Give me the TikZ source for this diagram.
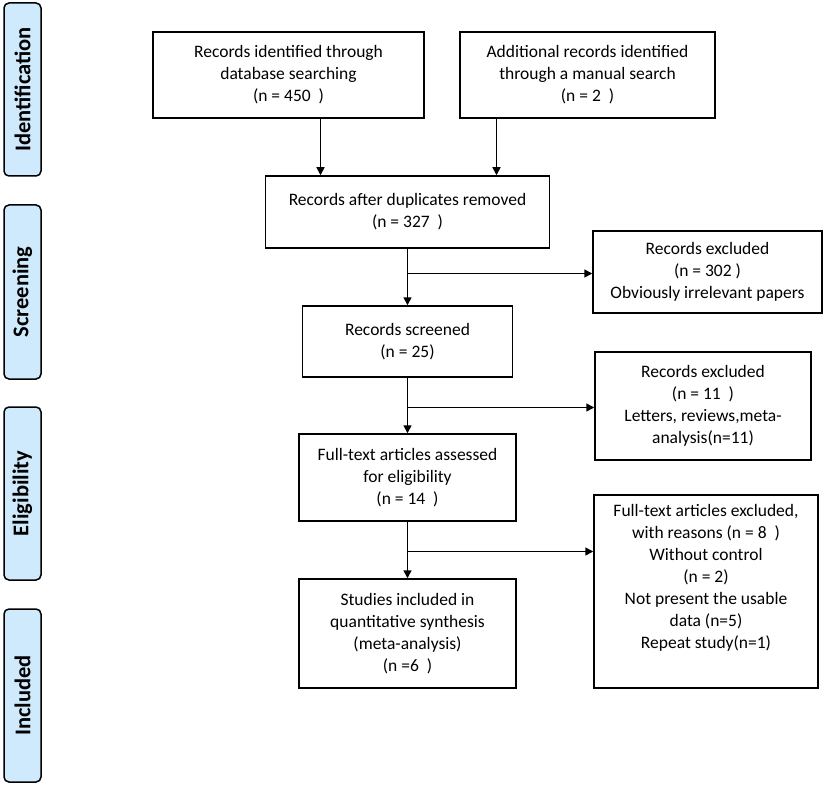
\documentclass[tikz,border=0pt]{standalone}
\usepackage{fontspec}
\setmainfont{Carlito}
\usetikzlibrary{arrows.meta}
\definecolor{sidefill}{RGB}{207,234,252}
\begin{document}
\begin{tikzpicture}[x=1pt,y=-1pt,
  box/.style={draw=black, line width=1.5pt, fill=white, align=center, font=\fontsize{17.5}{22}\selectfont, inner sep=0pt},
  side/.style={draw=black, line width=1.5pt, fill=sidefill, rounded corners=5pt, minimum width=37pt, inner sep=0pt},
  sidetext/.style={rotate=90, font=\bfseries\fontsize{22.5}{26}\selectfont},
  arr/.style={line width=1.5pt, -{Triangle[length=8pt,width=8pt]}},
  ln/.style={line width=1.5pt}]
\useasboundingbox (0,0) rectangle (829,786);
% side labels
\node[side, minimum height=173pt] (sid) at (22.5,89.5) {};
\node[sidetext] (sidt) at (sid.center) {Identification};
\node[side, minimum height=174pt] (sscr) at (22.5,292) {};
\node[sidetext] (sscrt) at (sscr.center) {Screening};
\node[side, minimum height=173pt] (self) at (22.5,493.5) {};
\node[sidetext] (selft) at (self.center) {Eligibility};
\node[side, minimum height=173pt] (sinc) at (22.5,695.5) {};
\node[sidetext] (sinct) at (sinc.center) {Included};
% main boxes
\node[box, minimum width=271pt, minimum height=86pt] (b1) at (288.5,75) {Records identified through\\database searching\\(n = 450~~)};
\node[box, minimum width=255pt, minimum height=86pt] (b2) at (587.5,75) {Additional records identified\\through a manual search\\(n = 2~~)};
\node[box, minimum width=284pt, minimum height=72pt] (b3) at (407.5,212) {Records after duplicates removed\\(n = 327~~)};
\node[box, minimum width=210pt, minimum height=71pt] (b4) at (407.5,341.5) {Records screened\\(n = 25)};
\node[box, minimum width=217pt, minimum height=87pt] (b5) at (407.5,477.5) {Full-text articles assessed\\for eligibility\\(n = 14~~)};
\node[box, minimum width=217pt, minimum height=109pt] (b6) at (407.5,633.5) {Studies included in\\quantitative synthesis\\(meta-analysis)\\(n =6~~)};
\node[box, minimum width=229pt, minimum height=82pt] (e1) at (707.5,272) {Records excluded\\(n = 302 )\\Obviously irrelevant papers};
\node[box, minimum width=216pt, minimum height=108pt] (e2) at (703,406) {Records excluded\\(n = 11~~)\\Letters, reviews,meta-\\analysis(n=11)};
\node[box, minimum width=224pt, minimum height=193pt, text depth=0pt] (e3) at (706,591.5) {Full-text articles excluded,\\with reasons (n = 8~~)\\Without control\\(n = 2)\\Not present the usable\\data (n=5)\\Repeat study(n=1)\\[8pt]};
% connectors
\draw[arr] ([xshift=32pt]b1.south) -- ([xshift=32pt]b1.south |- b3.north);
\draw[arr] ([xshift=-91pt]b2.south) -- ([xshift=-91pt]b2.south |- b3.north);
\draw[arr] (b3.south) -- (b4.north);
\coordinate (j1) at (407.5,273.5);
\draw[arr] (j1) -- (j1 -| e1.west);
\draw[arr] (b4.south) -- (b5.north);
\coordinate (j2) at (407.5,407.5);
\draw[arr] (j2) -- (j2 -| e2.west);
\draw[arr] (b5.south) -- (b6.north);
\coordinate (j3) at (407.5,551.5);
\draw[arr] (j3) -- (j3 -| e3.west);
\end{tikzpicture}
\end{document}
